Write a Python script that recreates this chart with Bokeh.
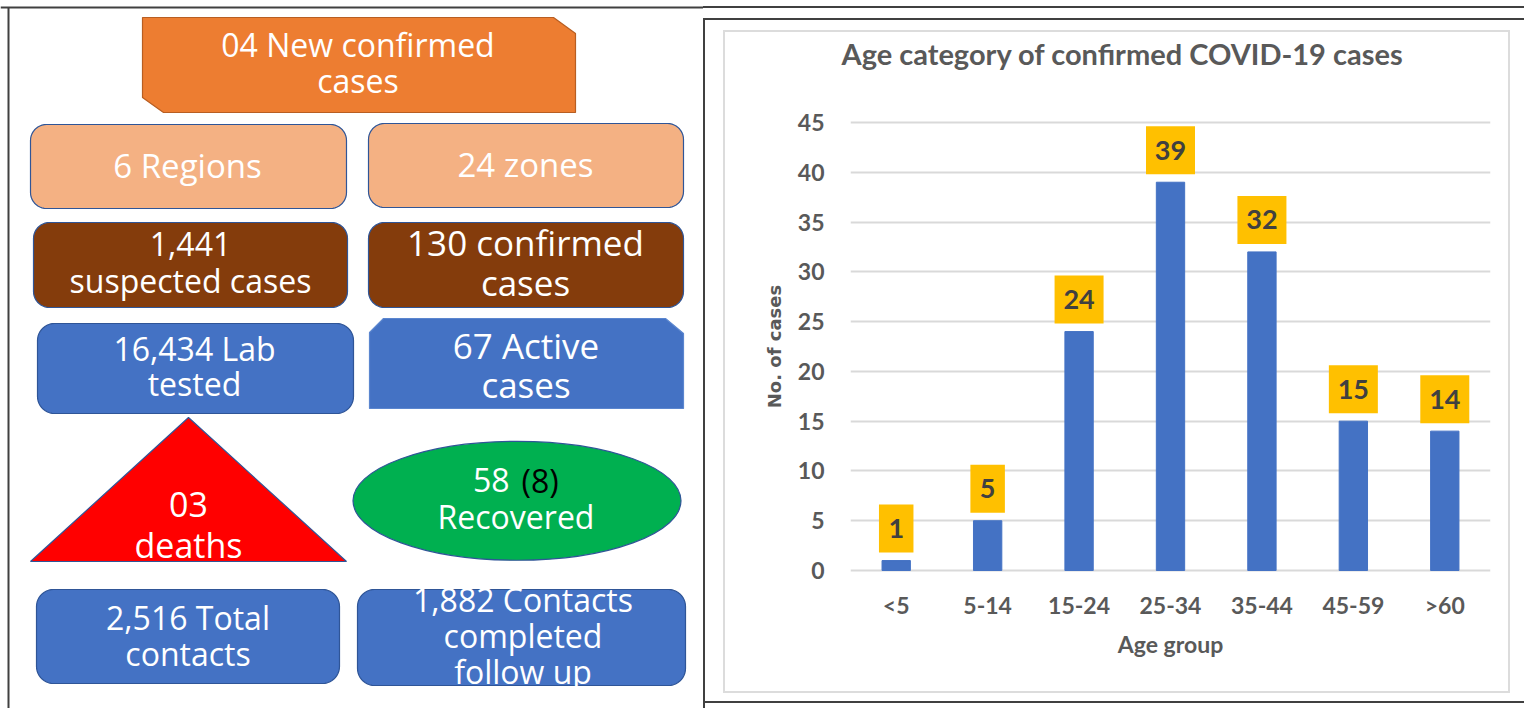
import numpy as np
from bokeh.plotting import figure
from bokeh.layouts import row
from bokeh.models import Range1d, FactorRange, FixedTicker, ColumnDataSource
from bokeh.embed import file_html
from bokeh.resources import INLINE
from bokeh.core.properties import value

# ---------------- data ----------------
age_groups = ["<5", "5-14", "15-24", "25-34", "35-44", "45-59", ">60"]
cases = [1, 5, 24, 39, 32, 15, 14]
y_ticks = [0, 5, 10, 15, 20, 25, 30, 35, 40, 45]
chart_title = "Age category of confirmed COVID-19 cases"
x_title = "Age group"
y_title = "No. of cases"

panel_texts = [
    ["04 New confirmed", "cases"],
    ["6 Regions"],
    ["24 zones"],
    ["1,441", "suspected cases"],
    ["130 confirmed", "cases"],
    ["16,434 Lab", "tested"],
    ["67 Active", "cases"],
    ["03", "deaths"],
    ["Recovered"],
    ["2,516 Total", "contacts"],
    ["1,882 Contacts", "completed", "follow up"],
]
recovered_count = "58"
recovered_extra = "(8)"

# ---------------- layout of the infographic (page pixels) ----------------
W1, W2, H = 703, 821, 708
ORANGE, PEACH, BROWN, BLUE = "#ED7D31", "#F4B183", "#843C0C", "#4472C4"
EDGE = "#2F5597"

# (centre x, baselines of the lines, font size)
text_layout = [
    (357.5, [55.7, 91.7], 32),
    (187.0, [177.0], 33),
    (525.0, [176.0], 33),
    (190.0, [255.0, 291.7], 32),
    (525.0, [255.0, 295.0], 35),
    (194.0, [360.0, 395.0], 32),
    (525.5, [358.0, 396.7], 35),
    (188.0, [516.7, 556.7], 34),
    (515.5, [528.3], 32),
    (187.5, [629.3, 665.0], 32),
    (522.5, [611.0, 646.7, 682.7], 32),
]
MID = 0.37  # baseline -> middle of the capitals, in em


def rrect(x0, y0, x1, y1, r, n=12):
    xs, ys = [], []
    for cx, cy, a0, a1 in [(x1 - r, y0 + r, -90, 0), (x1 - r, y1 - r, 0, 90),
                           (x0 + r, y1 - r, 90, 180), (x0 + r, y0 + r, 180, 270)]:
        t = np.radians(np.linspace(a0, a1, n))
        xs += list(cx + r * np.cos(t))
        ys += list(cy + r * np.sin(t))
    return xs, ys


def snip(x0, y0, x1, y1, cuts):
    pts = []
    if "tl" in cuts:
        cx, cy = cuts["tl"]; pts += [(x0, y0 + cy), (x0 + cx, y0)]
    else:
        pts += [(x0, y0)]
    if "tr" in cuts:
        cx, cy = cuts["tr"]; pts += [(x1 - cx, y0), (x1, y0 + cy)]
    else:
        pts += [(x1, y0)]
    pts += [(x1, y1)]
    if "bl" in cuts:
        cx, cy = cuts["bl"]; pts += [(x0 + cx, y1), (x0, y1 - cy)]
    else:
        pts += [(x0, y1)]
    return [p[0] for p in pts], [p[1] for p in pts]


p1 = figure(width=W1, height=H, x_range=Range1d(0, W1), y_range=Range1d(H, 0),
            output_backend="svg", toolbar_location=None, min_border=0,
            border_fill_color="white", background_fill_color="white", outline_line_color=None)
p1.frame_align = False
p1.axis.visible = False
p1.grid.visible = False

# page frame lines
p1.line([0, W1], [7, 7], line_color="#404040", line_width=2)
p1.line([8, 8], [7, H], line_color="#404040", line_width=2)

shapes_xs, shapes_ys, fills, lines = [], [], [], []
def add(poly, fill, line):
    shapes_xs.append(poly[0]); shapes_ys.append(poly[1]); fills.append(fill); lines.append(line)

add(snip(142, 17, 575, 112, {"tr": (22, 16), "bl": (21, 15)}), ORANGE, "#B85E22")
add(rrect(30, 124, 346, 208, 16), PEACH, EDGE)
add(rrect(368, 123, 683, 207, 16), PEACH, EDGE)
add(rrect(33, 222, 347, 307, 16), BROWN, EDGE)
add(rrect(368, 222, 683, 307, 16), BROWN, EDGE)
add(rrect(37, 323, 353, 413, 17), BLUE, EDGE)
add(snip(369, 318, 683, 408, {"tl": (14, 14), "tr": (18, 15)}), BLUE, "#5B86CF")
add(([188, 346, 30], [417, 561, 561]), "#FF0000", EDGE)
add(rrect(36, 589, 339, 683, 17), BLUE, EDGE)
add(rrect(357, 589, 685, 685, 17), BLUE, EDGE)
p1.patches(shapes_xs, shapes_ys, fill_color=fills, line_color=lines, line_width=1.2)
p1.ellipse(x=516.5, y=500.3, width=328, height=119, fill_color="#00B050",
           line_color=EDGE, line_width=1.2)

tx, ty, tt, ts = [], [], [], []
for lines_, (cx, bases, size) in zip(panel_texts, text_layout):
    for s, b in zip(lines_, bases):
        tx.append(cx); ty.append(b - MID * size); tt.append(s); ts.append(f"{size}px")
src = ColumnDataSource(dict(x=tx, y=ty, text=tt, size=ts))
p1.text(x="x", y="y", text="text", source=src, text_font=value("Open Sans"),
        text_font_size="size", text_color="white", text_align="center",
        text_baseline="middle")
p1.text(x=[509], y=[491.7 - MID * 32], text=[recovered_count], text_font=value("Open Sans"),
        text_font_size=value("32px"), text_color="white", text_align="right",
        text_baseline="middle")
p1.text(x=[521], y=[491.7 - MID * 32], text=[recovered_extra], text_font=value("Open Sans"),
        text_font_size=value("32px"), text_color="black", text_align="left",
        text_baseline="middle")

# ---------------- bar chart ----------------
def g(color, x, y, w, h):
    return f"linear-gradient({color},{color}) {x}px {y}px/{w}px {h}px no-repeat"

bg = ", ".join([
    g("#404040", 0, 6, W2, 2),
    g("#404040", 0, 18, W2, 2),
    g("#404040", 0, 18, 2, H - 18),
    g("#404040", 0, 701, W2, 2),
    g("#dcdcdc", 20, 30, 787, 2),
    g("#dcdcdc", 20, 691, 787, 2),
    g("#dcdcdc", 20, 30, 2, 663),
    g("#dcdcdc", 805, 30, 2, 663),
])

y_lo, y_hi = -0.2, 45.2
frame_h = 452
p2 = figure(width=W2, height=H, x_range=FactorRange(*age_groups), y_range=Range1d(y_lo, y_hi),
            output_backend="svg", toolbar_location=None,
            min_border_left=147, min_border_right=34, min_border_top=120, min_border_bottom=136,
            border_fill_color=None, background_fill_color=None, outline_line_color=None,
            title=chart_title + "\n", styles={"background": bg})
p2.frame_align = False

p2.title.text_font = "Lato"
p2.title.text_font_style = "bold"
p2.title.text_font_size = "29px"
p2.title.text_color = "#595959"
p2.title.align = "left"
p2.title.offset = -9
p2.title.standoff = 30

for ax in (p2.xaxis[0], p2.yaxis[0]):
    ax.axis_line_color = None
    ax.major_tick_line_color = None
    ax.minor_tick_line_color = None
    ax.major_label_text_font = "Lato"
    ax.major_label_text_font_style = "bold"
    ax.major_label_text_font_size = "23px"
    ax.major_label_text_color = "#595959"
    ax.axis_label_text_color = "#595959"
    ax.axis_label_text_font_style = "bold"

p2.xaxis.axis_label = x_title
p2.xaxis.axis_label_text_font = "Lato"
p2.xaxis.axis_label_text_font_size = "23px"
p2.xaxis.major_label_standoff = 12
p2.xaxis.axis_label_standoff = 8

p2.yaxis.ticker = FixedTicker(ticks=y_ticks)
p2.yaxis.axis_label = y_title
p2.yaxis.axis_label_text_font = "DejaVu Sans"
p2.yaxis.axis_label_text_font_size = "18px"
p2.yaxis.major_label_standoff = 20
p2.yaxis.axis_label_standoff = 10

p2.xgrid.grid_line_color = None
p2.ygrid.grid_line_color = "#d9d9d9"
p2.ygrid.grid_line_width = 2

p2.vbar(x=age_groups, top=cases, width=0.31, color="#4472C4")

off = 32 * (y_hi - y_lo) / frame_h
lab_y = [v + off for v in cases]
lab_w = [20 + 14.5 * len(str(v)) for v in cases]
p2.rect(x=age_groups, y=lab_y, width=lab_w, height=48, width_units="screen",
        height_units="screen", fill_color="#FFC000", line_color=None)
p2.text(x=age_groups, y=lab_y, text=[str(v) for v in cases],
        text_font=value("Lato"), text_font_style="bold", text_font_size=value("27px"),
        text_color="#404040", text_align="center", text_baseline="middle")

layout = row(p1, p2)
open("out.html", "w").write(file_html(layout, INLINE))
